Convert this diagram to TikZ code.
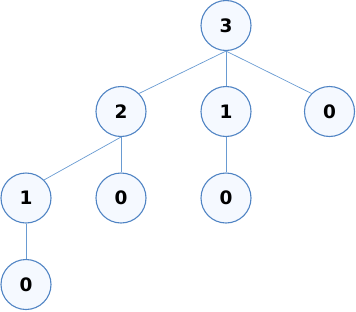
\documentclass[tikz,border=0pt]{standalone}
\usepackage{fontspec}
\setmainfont{DejaVu Sans}
\usetikzlibrary{positioning}

\definecolor{ringblue}{RGB}{80,132,196}
\definecolor{edgeblue}{RGB}{105,155,210}
\definecolor{nodefill}{RGB}{245,249,255}

\begin{document}
\begin{tikzpicture}[
  x=1pt, y=-1pt,
  on grid,
  vert/.style={circle, draw=ringblue, line width=1.1pt, fill=nodefill,
               minimum size=50pt, inner sep=0pt,
               font=\fontsize{18.5}{18.5}\selectfont\bfseries},
  edge/.style={draw=edgeblue, line width=0.7pt}
]
\useasboundingbox (0,0) rectangle (356,311);
\node[vert] (n3) at (226,25.5) {3};
\node[vert, below left=86pt and 105pt of n3]    (n2)  {2};
\node[vert, below=86pt of n3]                   (n1)  {1};
\node[vert, below right=86pt and 103.5pt of n3] (n0a) {0};
\node[vert, below left=86.5pt and 95pt of n2]   (n1b) {1};
\node[vert, below=86.5pt of n2]                 (n0b) {0};
\node[vert, below=86.5pt of n1]                 (n0c) {0};
\node[vert, below=86.5pt of n1b]                (n0d) {0};
\draw[edge] (n3.south) -- (n2.north east);
\draw[edge] (n3.south) -- (n1.north);
\draw[edge] (n3.south) -- (n0a.north west);
\draw[edge] (n2.south) -- (n1b.north east);
\draw[edge] (n2.south) -- (n0b.north);
\draw[edge] (n1.south) -- (n0c.north);
\draw[edge] (n1b.south) -- (n0d.north);
\end{tikzpicture}
\end{document}
